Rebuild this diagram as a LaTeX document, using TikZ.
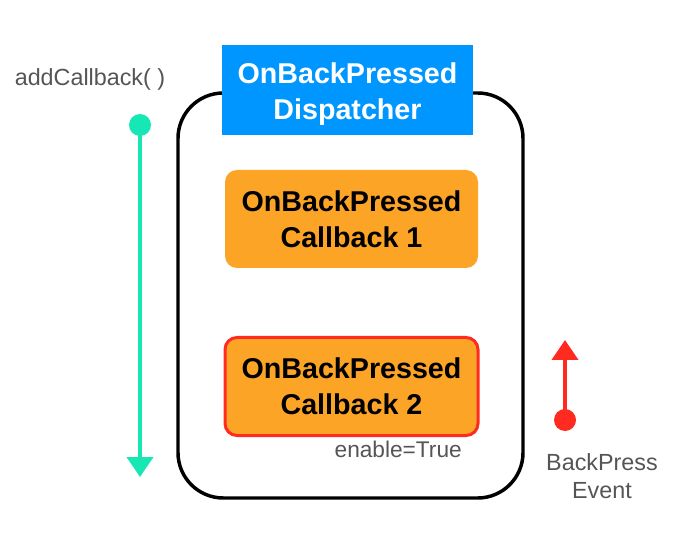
\documentclass[tikz,border=0pt]{standalone}
\usepackage{fontspec}
\setmainfont{Liberation Sans}
\usetikzlibrary{arrows.meta,positioning}
\definecolor{dispblue}{HTML}{0096FF}
\definecolor{cborange}{HTML}{FCA425}
\definecolor{evred}{HTML}{FF2A20}
\definecolor{addteal}{HTML}{17E6B5}
\definecolor{txtgray}{HTML}{555555}
\tikzset{
  titlefont/.style={font=\fontsize{21.5}{27}\selectfont\bfseries, align=center},
  dispbox/.style={fill=dispblue, minimum width=188.25pt, minimum height=67.5pt, inner sep=0pt},
  disptitle/.style={text=white, titlefont, inner sep=0pt},
  cbbox/.style={fill=cborange, text=black, titlefont, rounded corners=9pt, minimum width=189.75pt, minimum height=73.5pt, inner sep=0pt},
  cbactive/.style={cbbox, draw=evred, line width=2.25pt},
  graylabel/.style={text=txtgray, inner sep=0pt, align=center},
  dotend/.style={circle, inner sep=0pt, minimum size=16.5pt},
}
\begin{document}
\begin{tikzpicture}[x=0.75pt,y=-0.75pt]
\useasboundingbox (0,0) rectangle (692,534);
% container
\draw[line width=2.6pt, black, rounded corners=34pt] (178,93) rectangle (523,498);
% dispatcher
\node[dispbox] (disp) at (347.5,90) {};
\node[disptitle] (disptext) at (347.5,94) {OnBackPressed\\Dispatcher};
% callbacks
\node[cbbox] (cb1) at (351.5,219) {OnBackPressed\\Callback 1};
\node[cbactive] (cb2) at (351.5,386.5) {OnBackPressed\\Callback 2};
\node[graylabel, font=\fontsize{17}{19}\selectfont, anchor=north east] (enable) at (462,441) {enable=True};
% addCallback
\node[graylabel, font=\fontsize{17.5}{21}\selectfont] (addlbl) at (90,79) {addCallback( )};
\node[dotend, fill=addteal] (adddot) at (140,125) {};
\coordinate (addend) at (140,477);
\draw[addteal, line width=3pt, -{Triangle[width=19.5pt,length=15pt]}] (adddot.center) -- (addend);
% back press event
\node[dotend, fill=evred] (evdot) at (565,420) {};
\coordinate (evend) at (565,340);
\draw[evred, line width=3pt, -{Triangle[width=19.5pt,length=15pt]}] (evdot.center) -- (evend);
\node[graylabel, font=\fontsize{17.5}{21.5}\selectfont] (evlbl) at (602,476) {BackPress\\Event};
\end{tikzpicture}
\end{document}
